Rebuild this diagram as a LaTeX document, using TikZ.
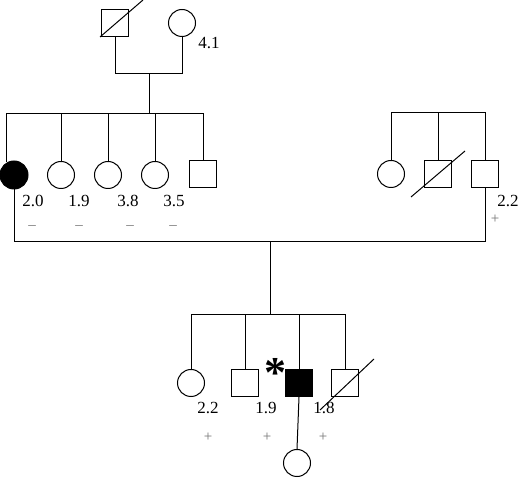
\documentclass[tikz,border=0pt]{standalone}
\usepackage{fontspec}
\setmainfont{Liberation Serif}
\usetikzlibrary{shapes}

\begin{document}
\begin{tikzpicture}[x=1pt, y=-1pt,
			male/.style={draw, rectangle, minimum size=27pt, inner sep=0pt},
			female/.style={draw, circle, minimum size=27pt, inner sep=0pt},
			affected/.style={fill=black},
			wert/.style={inner sep=0pt, font=\fontsize{17}{19}\selectfont},
			test/.style={inner sep=0pt, text=black!55, font=\fontsize{15}{17}\selectfont},
			line width=1pt]
			\useasboundingbox (0,0) rectangle (520,478);
			% Generation I
			\node[male] (gv) at (115,23) {};
			\node[female] (gm) at (182,23) {};
			\coordinate (e1) at (149,74);
			\coordinate (k1) at (149,114);
			\draw (gv.south) -- (gv.south |- e1) -- (gm.south |- e1) -- (gm.south);
			\draw (e1) -- (k1);
			\coordinate (t1a) at (100,37);
			\coordinate (t1b) at (143,0);
			\draw (t1a) -- (t1b);
			\node[wert] (w0) at (209,43) {4.1};
			% Generation II, links
			\node[female, affected, minimum size=28pt] (a1) at (14,175) {};
			\node[female] (a2) at (61,175) {};
			\node[female] (a3) at (108,175) {};
			\node[female] (a4) at (155,175) {};
			\node[male] (a5) at (203,174) {};
			\coordinate (s2) at (0,114);
			\draw (a1.120) -- (a1.120 |- s2) -| (a5.north);
			\foreach \n in {a2,a3,a4} \draw (\n.north) -- (\n.north |- s2);
			% Generation II, rechts
			\node[female] (b1) at (391,174) {};
			\node[male] (b2) at (438,174) {};
			\node[male] (b3) at (485,174) {};
			\coordinate (s3) at (0,113);
			\draw (b1.north) -- (b1.north |- s3) -| (b3.north);
			\draw (b2.north) -- (b2.north |- s3);
			\coordinate (t2a) at (411,197);
			\coordinate (t2b) at (465,151);
			\draw (t2a) -- (t2b);
			% Ehe und Kinder
			\coordinate (ehe) at (0,242);
			\coordinate (e2) at (270,242);
			\coordinate (s4) at (0,315);
			\draw (a1.south) -- (a1.south |- ehe) -| (b3.south);
			\draw (e2) -- (e2 |- s4);
			% Generation III
			\node[female] (c1) at (191,383) {};
			\node[male] (c2) at (245,383) {};
			\node[male, affected] (c3) at (299,383) {};
			\node[male] (c4) at (345,383) {};
			\draw (c1.north) -- (c1.north |- s4) -| (c4.north);
			\foreach \n in {c2,c3} \draw (\n.north) -- (\n.north |- s4);
			\coordinate (t3a) at (320,410);
			\coordinate (t3b) at (374,359);
			\draw (t3a) -- (t3b);
			\node[font=\fontsize{44}{44}\bfseries, inner sep=0pt] (ast) at (275,373) {*};
			% Generation IV
			\node[female] (d1) at (297,463) {};
			\draw (c3.south) -- (d1.north);
			% Werte beschriften
			\foreach \x/\w [count=\i] in {33/2.0, 79/1.9, 128/3.8, 174/3.5, 508/2.2}
				\node[wert] (wa\i) at (\x,201) {\w};
			\foreach \x/\w [count=\i] in {208/2.2, 266/1.9, 324/1.8}
				\node[wert] (wc\i) at (\x,408) {\w};
			\foreach \x [count=\i] in {32,79,130,173}
				\node[test] (ma\i) at (\x,228) {--};
			\node[test] (pb1) at (495,219) {+};
			\foreach \x [count=\i] in {208,267,323}
				\node[test] (pc\i) at (\x,437) {+};
		\end{tikzpicture}
\end{document}
